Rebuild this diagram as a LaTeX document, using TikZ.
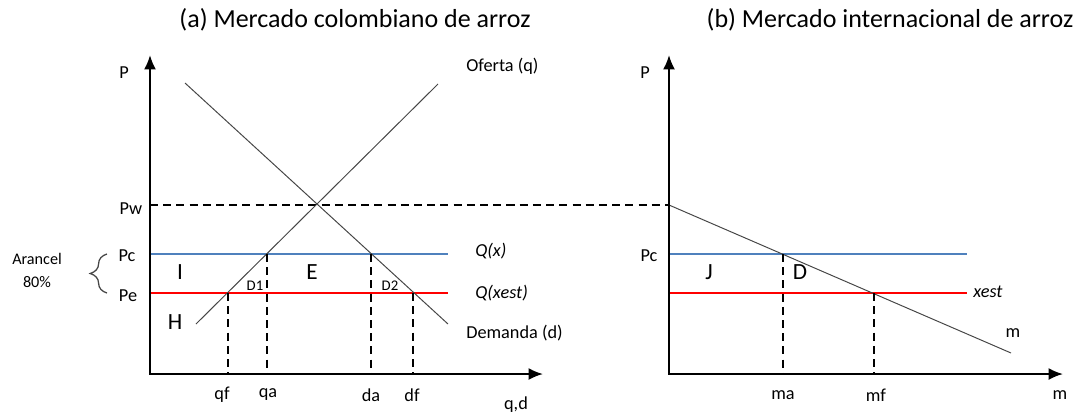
\documentclass[tikz,border=0pt]{standalone}
\usepackage{fontspec}
\setmainfont{Carlito}
\usepackage{tikz}
\usetikzlibrary{arrows.meta, decorations.pathreplacing}

\definecolor{azul}{RGB}{79,129,189}
\definecolor{gris}{RGB}{70,70,70}

\tikzset{
  eje/.style={line width=1.4pt, {Latex[length=3.6mm,width=3mm]}-{Latex[length=3.6mm,width=3mm]}},
  curva/.style={draw=gris, line width=0.7pt},
  guia/.style={line width=1.4pt, dash pattern=on 2mm off 1.3mm},
  precioc/.style={draw=azul, line width=0.8pt},
  precioe/.style={draw=red, line width=0.8pt},
  titulo/.style={font=\fontsize{18.5}{20}\selectfont, inner sep=0pt},
  etiq/.style={font=\fontsize{13}{15}\selectfont, inner sep=0pt},
  chica/.style={font=\fontsize{10.5}{12}\selectfont, inner sep=0pt},
  area/.style={font=\fontsize{16.5}{18}\selectfont, inner sep=0pt},
}

\begin{document}
\begin{tikzpicture}[x=0.025cm, y=-0.025cm]
    \useasboundingbox (0,0) rectangle (1083,417);

    % 1. Titulos
    \node[titulo] (ta) at (355,20) {(a) Mercado colombiano de arroz};
    \node[titulo] (tb) at (890,20) {(b) Mercado internacional de arroz};

    % 2. Puntos del panel (a)
    \coordinate (ya) at (150,55);
    \coordinate (oa) at (150,374);
    \coordinate (xa) at (543,374);
    \coordinate (s0) at (196,324);
    \coordinate (s1) at (438,84);
    \coordinate (d0) at (185,83);
    \coordinate (d1) at (448,324);
    \coordinate (pwa) at (150,205);
    \coordinate (pca) at (150,254);
    \coordinate (pca2) at (448,254);
    \coordinate (pea) at (150,293);
    \coordinate (pea2) at (448,293);
    \coordinate (qf) at (228,293);
    \coordinate (qa) at (267,254);
    \coordinate (da) at (371,254);
    \coordinate (df) at (413,293);

    % 3. Puntos del panel (b)
    \coordinate (yb) at (669,55);
    \coordinate (ob) at (669,374);
    \coordinate (xb) at (1063,374);
    \coordinate (pwb) at (669,205);
    \coordinate (m1) at (1011,353);
    \coordinate (pcb) at (669,254);
    \coordinate (pcb2) at (967,254);
    \coordinate (peb) at (669,293);
    \coordinate (peb2) at (967,293);
    \coordinate (ma) at (783,254);
    \coordinate (mf) at (874,293);

    % 4. Precio mundial
    \draw[guia] (pwa) -- (pwb);

    % 5. Lineas de precio
    \draw[precioc] (pca) -- (pca2);
    \draw[precioe] (pea) -- (pea2);
    \draw[precioc] (pcb) -- (pcb2);
    \draw[precioe] (peb) -- (peb2);

    % 6. Oferta, demanda y m
    \draw[curva] (s0) -- (s1);
    \draw[curva] (d0) -- (d1);
    \draw[curva] (pwb) -- (m1);

    % 7. Cantidades
    \foreach \p in {qf,qa,da,df,ma,mf} {
        \draw[guia] (\p) -- (\p |- oa);
    }

    % 8. Ejes
    \draw[eje] (ya) |- (xa);
    \draw[eje] (yb) |- (xb);

    % 9. Arancel
    \draw[gris, line width=0.9pt, decorate, decoration={brace, amplitude=0.42cm}]
        (107,293) -- (107,254);
    \node[etiq, font=\fontsize{11.5}{13}\selectfont] (ar) at (37,259) {Arancel};
    \node[etiq, font=\fontsize{11.5}{13}\selectfont] (pct) at (37,282) {80\%};

    % 10. Etiquetas panel (a)
    \node[etiq] (lpa) at (124,73) {P};
    \node[etiq] (lpw) at (131,209) {Pw};
    \node[etiq] (lpc) at (127,256) {Pc};
    \node[etiq] (lpe) at (128,296) {Pe};
    \node[area] (li) at (180,272) {I};
    \node[area] (le) at (312,272) {E};
    \node[area] (lh) at (175,322) {H};
    \node[chica] (ld1) at (255,286) {D1};
    \node[chica] (ld2) at (390,286) {D2};
    \node[etiq, anchor=west] (lof) at (466,66) {Oferta (q)};
    \node[etiq, anchor=west, font=\fontsize{13}{15}\itshape] (lqx) at (475,251) {Q(x)};
    \node[etiq, anchor=west, font=\fontsize{13}{15}\itshape] (lqe) at (475,293) {Q(xest)};
    \node[etiq, anchor=west] (lde) at (466,333) {Demanda (d)};
    \node[etiq] (lqf) at (222,395) {qf};
    \node[etiq] (lqa) at (268,395) {qa};
    \node[etiq] (lda) at (371,395) {da};
    \node[etiq] (ldf) at (412,395) {df};
    \node[etiq] (lqd) at (516,405) {q,d};

    % 11. Etiquetas panel (b)
    \node[etiq] (lpb) at (645,73) {P};
    \node[etiq] (lpcb) at (649,256) {Pc};
    \node[area] (lj) at (709,272) {J};
    \node[area] (ld) at (800,272) {D};
    \node[etiq, anchor=west, font=\fontsize{13}{15}\itshape] (lxe) at (973,292) {xest};
    \node[etiq] (lm) at (1013,333) {m};
    \node[etiq] (lma) at (783,395) {ma};
    \node[etiq] (lmf) at (876,395) {mf};
    \node[etiq] (lmx) at (1060,395) {m};
\end{tikzpicture}
\end{document}
